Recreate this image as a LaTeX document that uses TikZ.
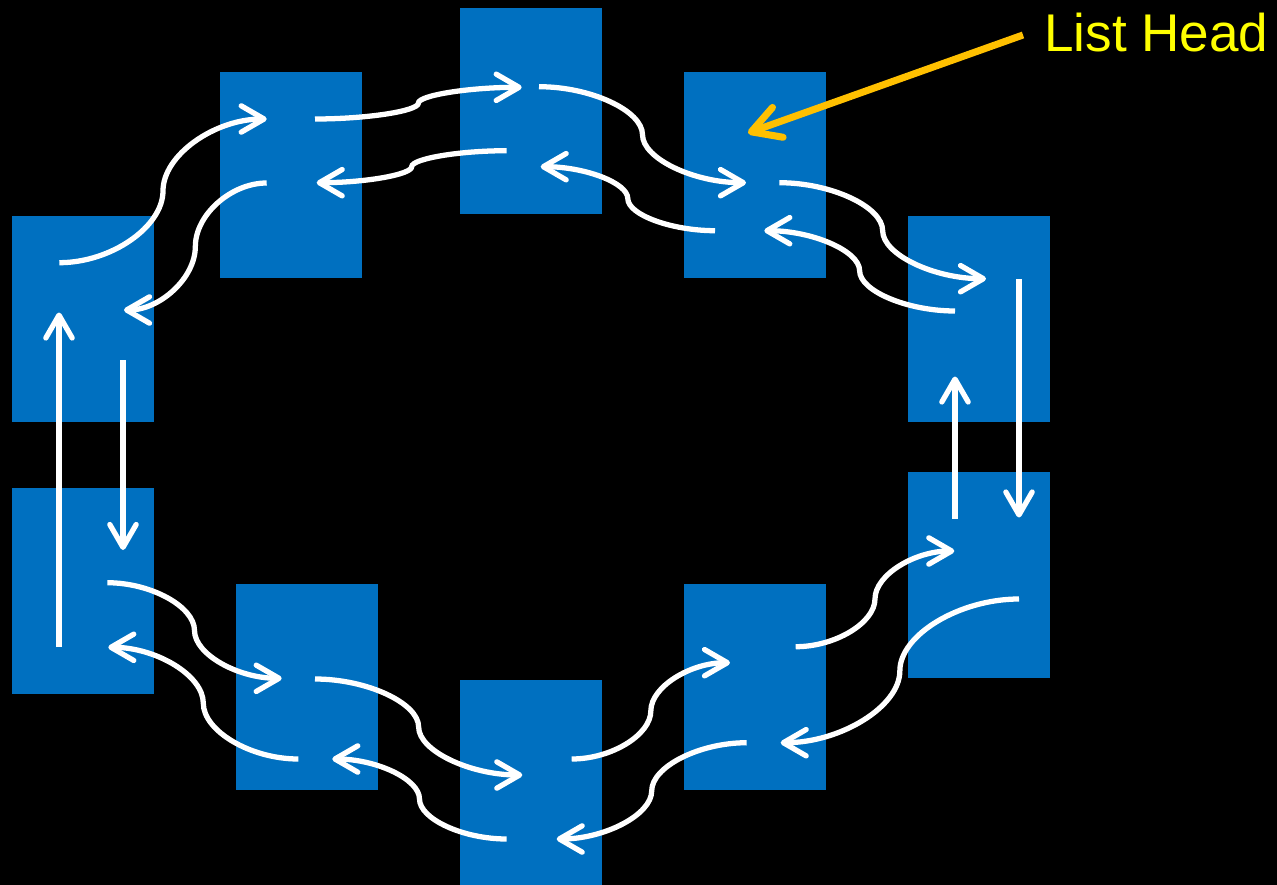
\documentclass[tikz,border=0pt]{standalone}
\usepackage{fontspec}
\setmainfont{Liberation Sans}
\usetikzlibrary{arrows.meta,calc}
\definecolor{boxblue}{HTML}{0070C0}
\definecolor{headorange}{HTML}{FFC000}
\definecolor{headyellow}{HTML}{FFFF00}
\begin{document}
\begin{tikzpicture}[x=0.02cm,y=-0.02cm,
  cell/.style={fill=boxblue, draw=none, minimum width=2.84cm, minimum height=4.11cm, inner sep=0pt, anchor=north west},
  link/.style={draw=white, line width=3pt, -{Straight Barb[length=13pt,width=15pt,round]}},
  headarrow/.style={draw=headorange, line width=4pt, -{Straight Barb[length=16pt,width=18pt,round]}},
  sconn/.style={to path={let \p1=(\tikztostart),\p2=(\tikztotarget) in
     .. controls ({0.75*\x1+0.25*\x2},\y1) and ({0.5*\x1+0.5*\x2},{0.75*\y1+0.25*\y2})
     .. ({0.5*\x1+0.5*\x2},{0.5*\y1+0.5*\y2})
     .. controls ({0.5*\x1+0.5*\x2},{0.25*\y1+0.75*\y2}) and ({0.25*\x1+0.75*\x2},\y2)
     .. (\tikztotarget) \tikztonodes}}
]
\fill[black] (0,0) rectangle (1277,885);
\useasboundingbox (0,0) rectangle (1277,885);

% boxes
\node[cell] (c1) at (12,216) {};
\node[cell] (c2) at (12,488) {};
\node[cell] (c3) at (220,72) {};
\node[cell] (c4) at (460,8) {};
\node[cell] (c5) at (684,72) {};
\node[cell] (c6) at (908,216) {};
\node[cell] (c7) at (908,472) {};
\node[cell] (c8) at (684,584) {};
\node[cell] (c9) at (460,680) {};
\node[cell] (c10) at (236,584) {};

% connector end points
\coordinate (f1s) at (59.3,262.7);  \coordinate (f1e) at (266.7,119);
\coordinate (b3s) at (266.7,183);   \coordinate (b3e) at (124,310);
\coordinate (f3s) at (315,119);     \coordinate (f3e) at (521.7,87.3);
\coordinate (b4s) at (506.7,150.7); \coordinate (b4e) at (316.7,182.7);
\coordinate (f4s) at (539,86.7);    \coordinate (f4e) at (746,182.7);
\coordinate (b5s) at (715,230.7);   \coordinate (b5e) at (540.7,166.7);
\coordinate (f5s) at (779.3,182.7); \coordinate (f5e) at (986,278.7);
\coordinate (b6s) at (955,311);     \coordinate (b6e) at (764.3,230.7);
\coordinate (f6s) at (1019,279);    \coordinate (f6e) at (1019,517.5);
\coordinate (b7s) at (955,518.5);   \coordinate (b7e) at (955,376.5);
\coordinate (r7s) at (1019,599);    \coordinate (r7e) at (780.7,742.7);
\coordinate (f8s) at (795.7,646.7); \coordinate (f8e) at (954.3,551);
\coordinate (b8s) at (746.7,742.7); \coordinate (b8e) at (556.7,839);
\coordinate (f9s) at (571.7,759);   \coordinate (f9e) at (730,662.7);
\coordinate (b9s) at (506.7,839);   \coordinate (b9e) at (332.3,759);
\coordinate (f10s) at (315,679);    \coordinate (f10e) at (522.3,775);
\coordinate (b10s) at (298.3,759);  \coordinate (b10e) at (108.3,647.3);
\coordinate (f2s) at (107.3,582.7); \coordinate (f2e) at (281.7,678.3);
\coordinate (u2s) at (59,647);      \coordinate (u2e) at (59,312.5);
\coordinate (d1s) at (123,360);     \coordinate (d1e) at (123,550);

% curved links
\draw[link] (f1s) to[sconn] (f1e);
\draw[link] (b3s) to[sconn] (b3e);
\draw[link] (f3s) to[sconn] (f3e);
\draw[link] (b4s) to[sconn] (b4e);
\draw[link] (f4s) to[sconn] (f4e);
\draw[link] (b5s) to[sconn] (b5e);
\draw[link] (f5s) to[sconn] (f5e);
\draw[link] (b6s) to[sconn] (b6e);
\draw[link] (r7s) to[sconn] (r7e);
\draw[link] (f8s) to[sconn] (f8e);
\draw[link] (b8s) to[sconn] (b8e);
\draw[link] (f9s) to[sconn] (f9e);
\draw[link] (b9s) to[sconn] (b9e);
\draw[link] (f10s) to[sconn] (f10e);
\draw[link] (b10s) to[sconn] (b10e);
\draw[link] (f2s) to[sconn] (f2e);

% straight links
\draw[link] (f6s) -- (f6e);
\draw[link] (b7s) -- (b7e);
\draw[link] (u2s) -- (u2e);
\draw[link] (d1s) -- (d1e);

% list head
\node[anchor=base west, inner sep=0pt, text=headyellow, font=\fontsize{30.2pt}{36pt}\selectfont] (lh) at (1044,52) {List Head};
\coordinate (hs) at (1023,35);
\coordinate (ht) at (748,133);
\draw[headarrow] (hs) -- (ht);
\end{tikzpicture}
\end{document}
